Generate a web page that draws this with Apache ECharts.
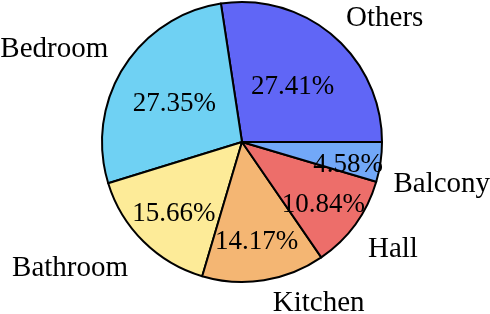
<!DOCTYPE html>
<html><head><meta charset="utf-8">
<script src="https://cdn.jsdelivr.net/npm/echarts@6/dist/echarts.min.js"></script>
<style>html,body{margin:0;padding:0;background:#fff}#c{width:490px;height:314px}</style>
</head><body><div id="c"></div>
<script>
const categories = ['Others', 'Bedroom', 'Bathroom', 'Kitchen', 'Hall', 'Balcony'];
const values = [27.41, 27.35, 15.66, 14.17, 10.84, 4.58];
const colors = ['#6066f6', '#6fd1f3', '#fdeb98', '#f4b673', '#ed6e6a', '#72a8f8'];
// label nudges (styling only)
const nameNudgeX = [0, 0, -2, 2, -2, -4];
const nameNudgeY = [-8, -12, 18, 11, 18, 21];
const pctNudgeX = [-6, 6, -7, 1, 11, 20];
const pctNudgeY = [11, 8, 10, 14, 12, 10];
const FONT = '"Liberation Serif", serif';
const chart = echarts.init(document.getElementById('c'));
chart.setOption({
  animation: false,
  series: [
    {
      type: 'pie', center: [242, 142], radius: [0, 140], startAngle: 0, clockwise: false,
      avoidLabelOverlap: false, silent: true,
      itemStyle: { borderColor: '#000', borderWidth: 2 },
      label: { show: true, position: 'outside', formatter: '{b}', fontFamily: FONT, fontSize: 29, color: '#000' },
      labelLine: { show: false, length: 12, length2: 0 },
      labelLayout: p => ({ dx: nameNudgeX[p.dataIndex], dy: nameNudgeY[p.dataIndex], hideOverlap: false }),
      data: categories.map((n, i) => ({ name: n, value: values[i], itemStyle: { color: colors[i] } }))
    },
    {
      type: 'pie', center: [242, 142], radius: [0, 168], startAngle: 0, clockwise: false,
      avoidLabelOverlap: false, silent: true, z: 5,
      itemStyle: { color: 'rgba(0,0,0,0)', borderWidth: 0 },
      label: { show: true, position: 'inside', formatter: p => p.value.toFixed(2) + '%', fontFamily: FONT, fontSize: 27, color: '#000', overflow: 'none' },
      labelLine: { show: false },
      labelLayout: p => ({ dx: pctNudgeX[p.dataIndex], dy: pctNudgeY[p.dataIndex], hideOverlap: false }),
      data: categories.map((n, i) => ({ name: n, value: values[i] }))
    }
  ]
});
</script></body></html>
